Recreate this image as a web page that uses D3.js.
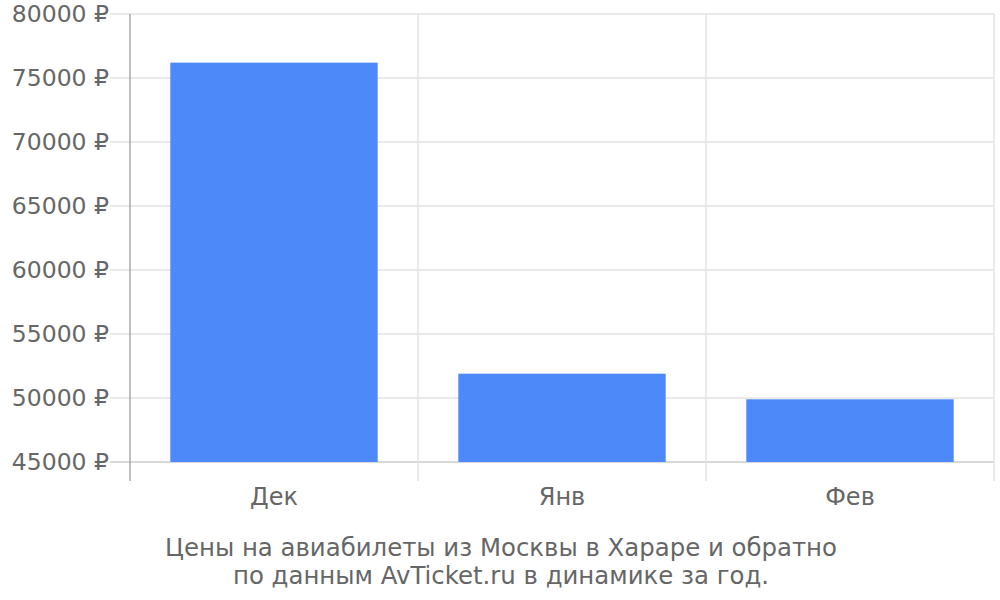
<!DOCTYPE html>
<html>
<head>
<meta charset="utf-8">
<script src="https://cdn.jsdelivr.net/npm/d3@7"></script>
<style>
  body { margin: 0; background: #fff; }
  text { font-family: "DejaVu Sans", sans-serif; fill: #666; }
</style>
</head>
<body>
<svg id="chart" width="1000" height="600"></svg>
<script>
// данные
var months = ["Дек", "Янв", "Фев"];
var prices = [76200, 51900, 49900];
var yTicks = [45000, 50000, 55000, 60000, 65000, 70000, 75000, 80000];
var caption = ["Цены на авиабилеты из Москвы в Хараре и обратно",
               "по данным AvTicket.ru в динамике за год."];

var mLeft = 130, mRight = 994, mTop = 14, mBottom = 462;
var fontSize = "24px";

var svg = d3.select("#chart");

var x = d3.scaleBand()
    .domain(months)
    .range([mLeft, mRight])
    .paddingInner(0.28)
    .paddingOuter(0.14);

var y = d3.scaleLinear()
    .domain([45000, 80000])
    .range([mBottom, mTop]);

var step = x.step();
var edges = months.map(function (m) { return x(m) - step * 0.14; });
edges.push(mRight);

// горизонтальная сетка
svg.append("g")
    .selectAll("line")
    .data(yTicks)
    .enter().append("line")
    .attr("x1", mLeft - 20)
    .attr("x2", mRight)
    .attr("y1", d => y(d))
    .attr("y2", d => y(d))
    .attr("stroke", d => d == 45000 ? "#ccc" : "#e3e3e3")
    .attr("stroke-width", 1.5);

// вертикальная сетка
svg.append("g")
    .selectAll("line")
    .data(edges)
    .enter().append("line")
    .attr("x1", d => d)
    .attr("x2", d => d)
    .attr("y1", mTop)
    .attr("y2", mBottom + 19)
    .attr("stroke", (d, i) => i == 0 ? "#aaa" : "#e3e3e3")
    .attr("stroke-width", 1.5);

// столбцы
svg.append("g")
    .selectAll("rect")
    .data(prices)
    .enter().append("rect")
    .attr("x", (d, i) => x(months[i]))
    .attr("width", x.bandwidth())
    .attr("y", d => y(d))
    .attr("height", d => y(45000) - y(d))
    .attr("fill", "#4d89f9");

// подписи оси Y
svg.append("g")
    .selectAll("text")
    .data(yTicks)
    .enter().append("text")
    .attr("x", 109)
    .attr("y", d => y(d))
    .attr("dy", "0.35em")
    .attr("text-anchor", "end")
    .style("font-size", "23.5px")
    .text(d => d + " \u20BD");

// подписи оси X
svg.append("g")
    .selectAll("text")
    .data(months)
    .enter().append("text")
    .attr("x", d => x(d) + x.bandwidth() / 2)
    .attr("y", 505)
    .attr("text-anchor", "middle")
    .style("font-size", fontSize)
    .text(d => d);

// подпись
svg.append("g")
    .selectAll("text")
    .data(caption)
    .enter().append("text")
    .attr("x", 501)
    .attr("y", (d, i) => 556 + i * 28)
    .attr("text-anchor", "middle")
    .style("font-size", "24.4px")
    .text(d => d);
</script>
</body>
</html>
